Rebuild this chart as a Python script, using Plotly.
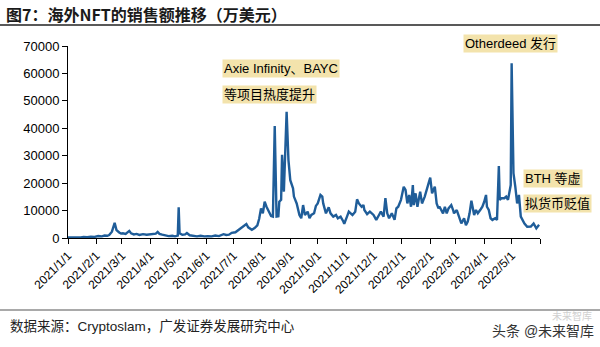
import plotly.graph_objects as go

dates = [
    "2021-01-01", "2021-01-05", "2021-01-10", "2021-01-15", "2021-01-18", "2021-01-22", "2021-01-26", "2021-01-30",
    "2021-02-03", "2021-02-07", "2021-02-10", "2021-02-13", "2021-02-15", "2021-02-18", "2021-02-21", "2021-02-23",
    "2021-02-26", "2021-02-28",
    "2021-03-02", "2021-03-05", "2021-03-09", "2021-03-11", "2021-03-14", "2021-03-17", "2021-03-20", "2021-03-24",
    "2021-03-28",
    "2021-04-01", "2021-04-04", "2021-04-07", "2021-04-09", "2021-04-11", "2021-04-14", "2021-04-17", "2021-04-21",
    "2021-04-25", "2021-04-28",
    "2021-05-01", "2021-05-02", "2021-05-03", "2021-05-06", "2021-05-09", "2021-05-11", "2021-05-14", "2021-05-18",
    "2021-05-22", "2021-05-26", "2021-05-30",
    "2021-06-03", "2021-06-07", "2021-06-11", "2021-06-15", "2021-06-20", "2021-06-23", "2021-06-26", "2021-06-29",
    "2021-07-03", "2021-07-06", "2021-07-10", "2021-07-15", "2021-07-17", "2021-07-21", "2021-07-24", "2021-07-27",
    "2021-07-29", "2021-07-31",
    "2021-08-02", "2021-08-04", "2021-08-06", "2021-08-09", "2021-08-11", "2021-08-13", "2021-08-15", "2021-08-17",
    "2021-08-19", "2021-08-20", "2021-08-22", "2021-08-23", "2021-08-25", "2021-08-28", "2021-08-30",
    "2021-09-01", "2021-09-04", "2021-09-05", "2021-09-08", "2021-09-11", "2021-09-13", "2021-09-15", "2021-09-17",
    "2021-09-20", "2021-09-22", "2021-09-24", "2021-09-27", "2021-09-29",
    "2021-10-01", "2021-10-04", "2021-10-06", "2021-10-07", "2021-10-10", "2021-10-13", "2021-10-15", "2021-10-18",
    "2021-10-21", "2021-10-23", "2021-10-26", "2021-10-29", "2021-10-30",
    "2021-11-02", "2021-11-04", "2021-11-06", "2021-11-08", "2021-11-11", "2021-11-13", "2021-11-15", "2021-11-18",
    "2021-11-20", "2021-11-21", "2021-11-24", "2021-11-27",
    "2021-12-01", "2021-12-04", "2021-12-07", "2021-12-09", "2021-12-12", "2021-12-14", "2021-12-16", "2021-12-18",
    "2021-12-21", "2021-12-24", "2021-12-26", "2021-12-28", "2021-12-31",
    "2022-01-03", "2022-01-05", "2022-01-07", "2022-01-09", "2022-01-11", "2022-01-13", "2022-01-14", "2022-01-16",
    "2022-01-18", "2022-01-21", "2022-01-23", "2022-01-26", "2022-01-29",
    "2022-02-01", "2022-02-03", "2022-02-06", "2022-02-08", "2022-02-10", "2022-02-11", "2022-02-13", "2022-02-15",
    "2022-02-17", "2022-02-19", "2022-02-21", "2022-02-24", "2022-02-26", "2022-02-27",
    "2022-03-02", "2022-03-05", "2022-03-07", "2022-03-10", "2022-03-12", "2022-03-14", "2022-03-16", "2022-03-18",
    "2022-03-20", "2022-03-21", "2022-03-23", "2022-03-25", "2022-03-28", "2022-03-30",
    "2022-04-01", "2022-04-03", "2022-04-04", "2022-04-06", "2022-04-08", "2022-04-10", "2022-04-13", "2022-04-15",
    "2022-04-17", "2022-04-18", "2022-04-20", "2022-04-23", "2022-04-25", "2022-04-27", "2022-04-28", "2022-04-30",
    "2022-05-01", "2022-05-03", "2022-05-05", "2022-05-07", "2022-05-09", "2022-05-11", "2022-05-15", "2022-05-18",
    "2022-05-22", "2022-05-25", "2022-05-28", "2022-05-31",
]

sales = [
    200, 150, 250, 200, 400, 300, 500, 400,
    700, 600, 900, 800, 1100, 2300, 5500, 2900,
    2000, 1600,
    1700, 1500, 2600, 1700, 1300, 1500, 1100, 1400,
    1200,
    1300, 1400, 1600, 2200, 1500, 1200, 1000, 700,
    800, 600,
    900, 11200, 1700, 1200, 1300, 1800, 1000, 700,
    600, 800, 600,
    700, 600, 900, 700, 1400, 1100, 1200, 1900,
    2100, 2900, 3800, 5100, 3900, 3000, 3600, 4600,
    7000, 10800,
    9000, 13200, 11400, 9000, 8000, 7800, 40800, 7800,
    7900, 13200, 13900, 30300, 16900, 46000, 28400,
    21100, 18100, 15100, 12600, 8400, 7200, 12000, 8400,
    9600, 7200, 8400, 9000, 11700,
    12600, 15700, 15100, 12600, 9000, 11200, 9000, 7800,
    8400, 7200, 7800, 6000, 5200,
    7800, 9600, 9000, 8400, 9600, 14100, 12600, 11400,
    12000, 10200, 8700, 9600,
    8400, 6600, 8400, 9600, 7800, 14500, 9000, 7200,
    9000, 6600, 10800, 11400, 13900,
    18700, 17500, 12600, 15700, 11400, 19300, 12000, 16300,
    11400, 16900, 12600, 15100, 18700,
    22000, 16300, 18700, 12600, 10800, 11500, 10000, 9000,
    11400, 9000, 10800, 12000, 10200, 9000,
    10200, 7200, 5300, 7200, 4700, 6000, 9000, 13600,
    10800, 8400, 10200, 9000, 10400, 11400,
    13200, 15700, 11400, 10200, 7200, 6600, 7200, 6600,
    26200, 13900, 14500, 14500, 15100, 13900, 15700, 19300,
    63700, 23600, 18700, 12600, 15700, 7800, 5300, 4100,
    4200, 5300, 3500, 4800,
]

tick_dates = [
    "2021-01-01", "2021-02-01", "2021-03-01", "2021-04-01", "2021-05-01", "2021-06-01",
    "2021-07-01", "2021-08-01", "2021-09-01", "2021-10-01", "2021-11-01", "2021-12-01",
    "2022-01-01", "2022-02-01", "2022-03-01", "2022-04-01", "2022-05-01", "2022-06-01",
]
tick_labels = [
    "2021/1/1", "2021/2/1", "2021/3/1", "2021/4/1", "2021/5/1", "2021/6/1",
    "2021/7/1", "2021/8/1", "2021/9/1", "2021/10/1", "2021/11/1", "2021/12/1",
    "2022/1/1", "2022/2/1", "2022/3/1", "2022/4/1", "2022/5/1", "",
]
y_ticks = [0, 10000, 20000, 30000, 40000, 50000, 60000, 70000]

title_text = "图7：海外NFT的销售额推移（万美元）"
source_text = "数据来源：Cryptoslam，广发证券发展研究中心"

FONT = "Liberation Sans, Arial, Noto Sans CJK SC, sans-serif"
W, H = 600, 347
L, R, T, B = 68, 60, 46, 109
PW, PH = W - L - R, H - T - B


def px(x):
    return (x - L) / PW


def py(y):
    return (H - B - y) / PH


fig = go.Figure()
fig.add_trace(go.Scatter(
    x=dates, y=sales, mode="lines",
    line=dict(color="#1F5D99", width=2.4),
    hoverinfo="skip", showlegend=False,
))

box_bg = "#F3E3AC"
notes = [
    ("Axie Infinity、BAYC", 222, 68),
    ("等项目热度提升", 222, 94),
    ("Otherdeed 发行", 463, 44),
    ("BTH 等虚", 523, 178),
    ("拟货币贬值", 523, 203),
]
annotations = []
for txt, ax, ay in notes:
    annotations.append(dict(
        text=txt, xref="paper", yref="paper", x=px(ax), y=py(ay),
        xanchor="left", yanchor="middle", showarrow=False,
        font=dict(family=FONT, size=13, color="#000000"),
        bgcolor=box_bg, borderpad=1,
    ))

annotations.append(dict(
    text="<b>" + title_text + "</b>", xref="paper", yref="paper",
    x=px(4), y=py(14), xanchor="left", yanchor="middle", showarrow=False,
    font=dict(family="Noto Sans CJK SC, Liberation Sans, sans-serif", size=16, color="#1a1a1a"),
))
annotations.append(dict(
    text=source_text, xref="paper", yref="paper",
    x=px(8), y=py(326), xanchor="left", yanchor="middle", showarrow=False,
    font=dict(family=FONT, size=13.5, color="#222222"),
))
annotations.append(dict(
    text="未来智库", xref="paper", yref="paper",
    x=px(594), y=py(316), xanchor="right", yanchor="middle", showarrow=False,
    font=dict(family=FONT, size=10, color="#d0d0d0"),
))
annotations.append(dict(
    text="头条 @未来智库", xref="paper", yref="paper",
    x=px(596), y=py(331), xanchor="right", yanchor="middle", showarrow=False,
    font=dict(family=FONT, size=14, color="#333333"),
))

shapes = [
    dict(type="line", xref="paper", yref="paper", x0=px(0), x1=px(W), y0=py(25), y1=py(25),
         line=dict(color="#222222", width=1.5)),
    dict(type="line", xref="paper", yref="paper", x0=px(0), x1=px(W), y0=py(310), y1=py(310),
         line=dict(color="#555555", width=1.2)),
]

fig.update_layout(
    width=W, height=H,
    margin=dict(l=L, r=R, t=T, b=B),
    paper_bgcolor="white", plot_bgcolor="white",
    font=dict(family=FONT, size=12, color="#000000"),
    annotations=annotations, shapes=shapes,
    xaxis=dict(
        type="date", range=["2021-01-01", "2022-06-01"],
        tickvals=tick_dates, ticktext=tick_labels, tickangle=-45,
        showgrid=False, zeroline=False, showline=True, linecolor="#000000", linewidth=1,
        ticks="outside", ticklen=5, tickcolor="#000000",
        tickfont=dict(family=FONT, size=12, color="#000000"),
    ),
    yaxis=dict(
        range=[0, 70000], tickvals=y_ticks, ticktext=[str(v) for v in y_ticks],
        showgrid=False, zeroline=False, showline=True, linecolor="#000000", linewidth=1,
        ticks="outside", ticklen=5, tickcolor="#000000",
        tickfont=dict(family=FONT, size=13, color="#000000"),
    ),
)

fig.write_html("out.html")
